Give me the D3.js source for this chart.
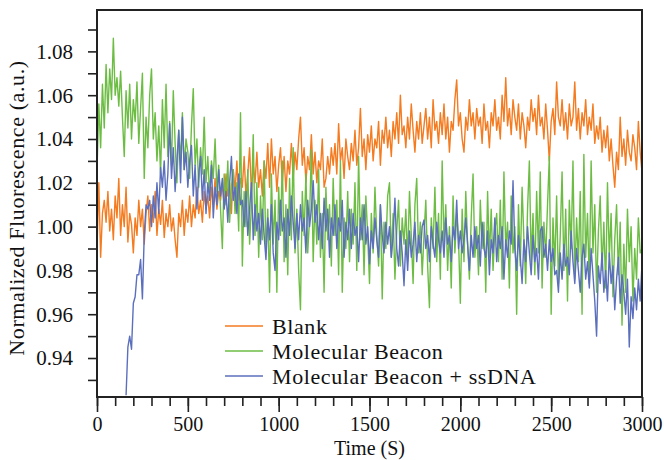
<!DOCTYPE html>
<html>
<head>
<meta charset="utf-8">
<script src="https://cdn.jsdelivr.net/npm/d3@7"></script>
<style>
  body { margin: 0; background: #fff; }
  text { font-family: "Liberation Serif", "Times New Roman", serif; fill: #111; }
</style>
</head>
<body>
<div id="chart-area"></div>
<script>
// Tiempo (s), un punto cada 10 s
var time = d3.range(0, 3001, 10);

// Blank (naranja)
var blank = [
  0.990, 1.020, 0.986, 1.006, 1.012, 1.002, 1.016, 0.998, 1.008, 0.994,
  1.014, 1.004, 1.022, 0.996, 1.010, 1.000, 1.018, 0.993, 1.006, 1.001,
  0.988, 1.004, 0.996, 1.012, 1.000, 1.008, 0.992, 1.006, 1.014, 0.998,
  1.010, 1.002, 1.016, 0.996, 1.008, 1.001, 1.012, 0.995, 1.006, 1.000,
  1.010, 0.998, 1.004, 0.994, 0.986, 1.006, 1.000, 1.012, 0.996, 1.008,
  1.002, 1.014, 1.000, 1.010, 1.004, 1.018, 1.006, 1.012, 1.002, 1.016,
  1.008, 1.014, 1.004, 1.018, 1.010, 1.022, 1.008, 1.016, 1.012, 1.020,
  1.010, 1.024, 1.014, 1.020, 1.006, 1.026, 1.016, 1.030, 1.012, 1.022,
  1.018, 1.032, 1.014, 1.024, 1.036, 1.016, 1.028, 1.020, 1.034, 1.018,
  1.026, 1.014, 1.030, 1.022, 1.038, 1.018, 1.040, 1.024, 1.032, 1.016,
  1.028, 1.036, 1.020, 1.032, 1.016, 1.030, 1.024, 1.038, 1.022, 1.034,
  1.026, 1.040, 1.050, 1.028, 1.036, 1.020, 1.032, 1.026, 1.042, 1.024,
  1.034, 1.020, 1.030, 1.026, 1.040, 1.018, 1.022, 1.032, 1.024, 1.036,
  1.028, 1.038, 1.024, 1.047, 1.030, 1.036, 1.022, 1.040, 1.032, 1.026,
  1.038, 1.030, 1.044, 1.028, 1.036, 1.054, 1.032, 1.040, 1.026, 1.042,
  1.034, 1.046, 1.030, 1.040, 1.036, 1.048, 1.028, 1.044, 1.038, 1.050,
  1.036, 1.044, 1.032, 1.048, 1.040, 1.052, 1.038, 1.060, 1.042, 1.046,
  1.036, 1.050, 1.040, 1.056, 1.044, 1.034, 1.048, 1.040, 1.052, 1.038,
  1.046, 1.054, 1.040, 1.050, 1.036, 1.058, 1.044, 1.048, 1.038, 1.052,
  1.042, 1.056, 1.040, 1.050, 1.034, 1.048, 1.044, 1.058, 1.067, 1.046,
  1.052, 1.040, 1.034, 1.050, 1.044, 1.058, 1.046, 1.052, 1.040, 1.054,
  1.046, 1.050, 1.038, 1.056, 1.044, 1.048, 1.036, 1.052, 1.046, 1.058,
  1.044, 1.050, 1.040, 1.060, 1.048, 1.068, 1.046, 1.054, 1.042, 1.058,
  1.050, 1.044, 1.056, 1.040, 1.052, 1.046, 1.036, 1.050, 1.044, 1.058,
  1.048, 1.054, 1.042, 1.060, 1.046, 1.050, 1.040, 1.056, 1.044, 1.030,
  1.048, 1.054, 1.042, 1.066, 1.050, 1.046, 1.058, 1.044, 1.052, 1.040,
  1.056, 1.046, 1.050, 1.066, 1.044, 1.054, 1.040, 1.052, 1.046, 1.058,
  1.042, 1.050, 1.044, 1.056, 1.038, 1.046, 1.040, 1.050, 1.034, 1.044,
  1.036, 1.046, 1.030, 1.040, 1.028, 1.018, 1.034, 1.026, 1.050, 1.032,
  1.040, 1.028, 1.044, 1.034, 1.030, 1.042, 1.036, 1.026, 1.048, 1.034,
  1.025
];

// Molecular Beacon (verde)
var beacon = [
  1.025, 1.056, 1.036, 1.065, 1.045, 1.074, 1.052, 1.072, 1.058, 1.086,
  1.060, 1.068, 1.055, 1.071, 1.050, 1.032, 1.062, 1.045, 1.065, 1.040,
  1.058, 1.048, 1.066, 1.038, 1.054, 1.070, 1.022, 1.050, 1.036, 1.060,
  1.072, 1.040, 1.052, 1.030, 1.046, 1.024, 1.058, 1.036, 1.065, 1.032,
  1.048, 1.028, 1.062, 1.038, 1.020, 1.044, 1.030, 1.052, 1.026, 1.040,
  1.034, 1.022, 1.046, 1.063, 1.028, 1.040, 1.018, 1.036, 1.024, 1.050,
  1.020, 1.032, 1.014, 1.030, 1.022, 1.040, 1.016, 1.028, 1.008, 0.990,
  1.024, 1.010, 1.030, 1.002, 1.018, 1.026, 1.006, 1.020, 0.998, 1.052,
  0.982, 1.016, 1.000, 1.026, 0.992, 1.010, 1.042, 0.996, 1.020, 0.986,
  1.014, 0.994, 1.030, 0.988, 1.008, 0.970, 1.024, 0.992, 1.012, 0.970,
  1.018, 0.996, 1.030, 0.984, 1.010, 0.978, 1.022, 0.994, 1.036, 0.988,
  1.008, 0.980, 0.962, 1.016, 0.996, 1.024, 0.988, 1.004, 1.035, 0.984,
  1.012, 0.992, 1.026, 0.986, 1.006, 0.970, 1.018, 0.994, 1.010, 0.982,
  1.022, 0.996, 1.012, 0.978, 1.030, 0.970, 1.004, 0.990, 1.016, 0.984,
  1.008, 0.992, 1.020, 0.980, 1.032, 0.994, 1.010, 0.978, 1.014, 0.996,
  0.974, 1.006, 0.988, 1.018, 0.996, 0.982, 1.010, 0.967, 1.002, 0.990,
  1.014, 1.020, 0.986, 1.006, 0.976, 0.998, 1.012, 0.982, 1.004, 0.992,
  1.008, 0.984, 1.016, 0.996, 0.974, 1.010, 1.022, 0.988, 1.002, 0.978,
  0.996, 1.012, 0.982, 0.963, 1.004, 0.990, 1.018, 0.984, 1.006, 0.976,
  1.030, 0.992, 1.010, 0.980, 1.000, 0.972, 1.014, 0.988, 1.006, 0.994,
  0.965, 1.008, 0.984, 1.016, 0.992, 0.976, 1.004, 1.024, 0.986, 1.000,
  0.978, 1.012, 0.990, 1.002, 0.970, 1.016, 0.986, 1.008, 0.980, 0.998,
  1.006, 0.984, 1.012, 0.976, 1.025, 0.990, 1.002, 0.972, 1.014, 0.988,
  1.000, 0.960, 1.010, 0.982, 1.018, 0.994, 0.974, 1.008, 1.030, 0.984,
  1.006, 0.978, 1.016, 0.988, 1.025, 0.972, 1.002, 0.986, 1.010, 1.032,
  0.960, 1.004, 0.982, 1.014, 0.974, 0.996, 1.025, 0.980, 1.008, 0.966,
  1.012, 0.990, 1.030, 0.976, 1.004, 0.984, 1.016, 0.960, 1.033, 0.986,
  1.006, 0.974, 1.030, 0.988, 1.010, 0.970, 0.998, 1.014, 0.980, 1.002,
  0.972, 1.020, 0.986, 1.006, 0.968, 0.994, 1.010, 0.978, 1.002, 0.955,
  0.992, 0.970, 1.008, 0.984, 1.000, 0.966, 0.990, 0.976, 1.004, 0.988,
  0.990
];

// Molecular Beacon + ssDNA (azul), empieza hacia t = 160 s
var beaconDNA = [
  null, null, null, null, null, null, null, null, null, null,
  null, null, null, null, null, null, 0.923, 0.945, 0.950, 0.944,
  0.965, 0.968, 0.978, 0.978, 0.985, 0.967, 0.996, 1.010, 1.008, 1.012,
  1.000, 1.014, 1.004, 1.020, 1.006, 1.027, 1.018, 1.030, 1.012, 1.024,
  1.047, 1.022, 1.036, 1.016, 1.030, 1.044, 1.020, 1.050, 1.026, 1.034,
  1.018, 1.030, 1.037, 1.014, 1.028, 1.008, 1.024, 1.032, 1.012, 1.026,
  1.006, 1.020, 1.012, 1.028, 1.004, 1.018, 1.010, 1.026, 1.014, 1.022,
  1.008, 1.016, 1.002, 1.020, 1.032, 1.012, 1.018, 1.006, 1.024, 1.010,
  1.012, 1.000, 1.016, 0.996, 1.008, 1.020, 0.994, 1.010, 0.998, 1.006,
  0.992, 1.008, 0.996, 0.985, 1.004, 0.994, 1.010, 0.988, 0.980, 1.002,
  0.994, 1.012, 0.998, 1.004, 0.986, 1.008, 0.996, 1.014, 1.002, 0.990,
  1.006, 0.994, 1.010, 0.998, 1.004, 0.988, 1.012, 1.000, 1.008, 1.021,
  1.002, 1.010, 0.994, 1.006, 0.990, 1.013, 0.998, 1.008, 0.986, 1.004,
  0.996, 1.010, 0.990, 1.004, 0.998, 1.012, 0.986, 1.002, 0.994, 1.008,
  0.990, 1.006, 0.996, 1.000, 0.984, 1.004, 0.994, 1.010, 0.992, 1.000,
  0.983, 0.998, 0.990, 1.004, 0.994, 0.986, 1.010, 0.996, 0.988, 1.002,
  0.992, 1.000, 0.986, 0.996, 1.013, 0.990, 0.982, 0.998, 0.988, 0.973,
  0.994, 0.980, 0.998, 0.986, 0.992, 1.002, 0.984, 0.996, 0.988, 1.000,
  1.003, 0.990, 0.996, 0.984, 1.000, 0.992, 0.986, 1.002, 0.994, 0.988,
  0.998, 0.986, 1.004, 0.992, 0.996, 0.984, 1.000, 0.994, 1.012, 0.990,
  0.998, 0.988, 0.994, 1.004, 0.992, 0.980, 0.996, 0.986, 1.000, 0.990,
  0.996, 0.982, 1.002, 0.990, 0.986, 0.998, 0.978, 0.994, 0.988, 1.004,
  0.984, 0.996, 0.990, 1.000, 0.976, 0.994, 0.986, 0.998, 0.992, 1.021,
  0.990, 0.980, 0.996, 0.986, 0.974, 0.994, 0.984, 1.000, 0.988, 0.978,
  0.996, 0.984, 0.990, 0.976, 0.998, 1.000, 0.986, 0.992, 0.980, 0.994,
  0.984, 0.990, 0.978, 0.980, 0.970, 0.988, 0.976, 0.992, 0.982, 0.986,
  0.978, 0.998, 0.984, 0.974, 0.990, 0.980, 0.970, 0.986, 0.992, 0.976,
  0.984, 0.972, 0.990, 0.978, 0.966, 0.950, 0.982, 0.974, 0.988, 0.970,
  0.980, 0.966, 0.988, 0.974, 0.982, 0.962, 0.976, 0.986, 0.965, 0.978,
  0.970, 0.960, 0.976, 0.945, 0.968, 0.958, 0.972, 0.962, 0.976, 0.966,
  0.983
];

var seriesNames = ["Blank", "Molecular Beacon", "Molecular Beacon + ssDNA"];
var seriesColors = ["#f47b20", "#6dbd45", "#5b6fbd"];

var xTicksMajor = [0, 500, 1000, 1500, 2000, 2500, 3000];
var yTickLabels = [0.94, 0.96, 0.98, 1.00, 1.02, 1.04, 1.06, 1.08];

// Márgenes
var margin = { top: 10, right: 22, bottom: 63, left: 97 },
    width = 664 - margin.left - margin.right,
    height = 460 - margin.top - margin.bottom;

var svg = d3.select("#chart-area").append("svg")
    .attr("width", 664)
    .attr("height", 460)
    .append("g")
    .attr("transform", "translate(" + margin.left + "," + margin.top + ")");

var x = d3.scaleLinear().domain([0, 3000]).range([0, width]);
var y = d3.scaleLinear().domain([0.9222, 1.0989]).range([height, 0]);

// Eje X: menores cada 100, mayores cada 500
svg.append("g")
    .attr("transform", "translate(0," + height + ")")
    .call(d3.axisBottom(x).tickValues(d3.range(0, 3001, 100)).tickSize(9).tickFormat(""))
    .call(function(g) { g.select(".domain").remove(); })
    .selectAll("line").attr("stroke", "#222").attr("stroke-width", 1.6);

svg.append("g")
    .attr("class", "x-axis")
    .attr("transform", "translate(0," + height + ")")
    .call(d3.axisBottom(x).tickValues(xTicksMajor).tickSize(15).tickPadding(5).tickFormat(d3.format("d")))
    .call(function(g) { g.select(".domain").remove(); })
    .call(function(g) { g.selectAll("line").attr("stroke", "#222").attr("stroke-width", 1.6); })
    .selectAll("text")
    .style("font-size", "20px")
    .style("font-family", "\"Liberation Serif\", serif")
    .attr("fill", "#111");

// Eje Y: marcas cada 0.01, etiquetas cada 0.02
svg.append("g")
    .call(d3.axisLeft(y).tickValues(d3.range(93, 110).map(function(v) { return v / 100; })).tickSize(9).tickFormat(""))
    .call(function(g) { g.select(".domain").remove(); })
    .selectAll("line").attr("stroke", "#222").attr("stroke-width", 1.6);

svg.append("g")
    .selectAll("text")
    .data(yTickLabels)
    .enter().append("text")
    .attr("x", -24)
    .attr("y", function(d) { return y(d); })
    .attr("dy", "0.35em")
    .style("text-anchor", "end")
    .style("font-size", "21px")
    .text(function(d) { return d3.format(".2f")(d); });

// Líneas de datos
var allSeries = [blank, beacon, beaconDNA];

allSeries.forEach(function(values, i) {
    var line = d3.line()
        .defined(function(d) { return d[1] !== null; })
        .x(function(d) { return x(d[0]); })
        .y(function(d) { return y(d[1]); });

    svg.append("path")
        .datum(time.map(function(t, k) { return [t, values[k]]; }))
        .attr("fill", "none")
        .attr("stroke", seriesColors[i])
        .attr("stroke-width", 1.4)
        .attr("stroke-linejoin", "round")
        .attr("d", line);
});

// Marco
svg.append("rect")
    .attr("width", width)
    .attr("height", height)
    .attr("fill", "none")
    .attr("stroke", "#222")
    .attr("stroke-width", 2);

// Leyenda
var legend = svg.append("g").attr("transform", "translate(128,316)");
seriesNames.forEach(function(name, i) {
    var row = legend.append("g").attr("transform", "translate(0," + (i * 25) + ")");
    row.append("line")
        .attr("x1", 0).attr("x2", 38)
        .attr("stroke", seriesColors[i])
        .attr("stroke-width", 1.6);
    row.append("text")
        .attr("x", 47)
        .attr("dy", "0.35em")
        .style("font-size", "22px")
        .style("letter-spacing", "0.6px")
        .text(name);
});

// Títulos de ejes
svg.append("text")
    .attr("x", width / 2)
    .attr("y", height + 58)
    .style("text-anchor", "middle")
    .style("font-size", "20px")
    .text("Time (S)");

svg.append("text")
    .attr("transform", "rotate(-90)")
    .attr("x", -198)
    .attr("y", -73)
    .style("text-anchor", "middle")
    .style("font-size", "22px")
    .style("letter-spacing", "0.6px")
    .text("Normalized Fluorescence (a.u.)");
</script>
</body>
</html>
